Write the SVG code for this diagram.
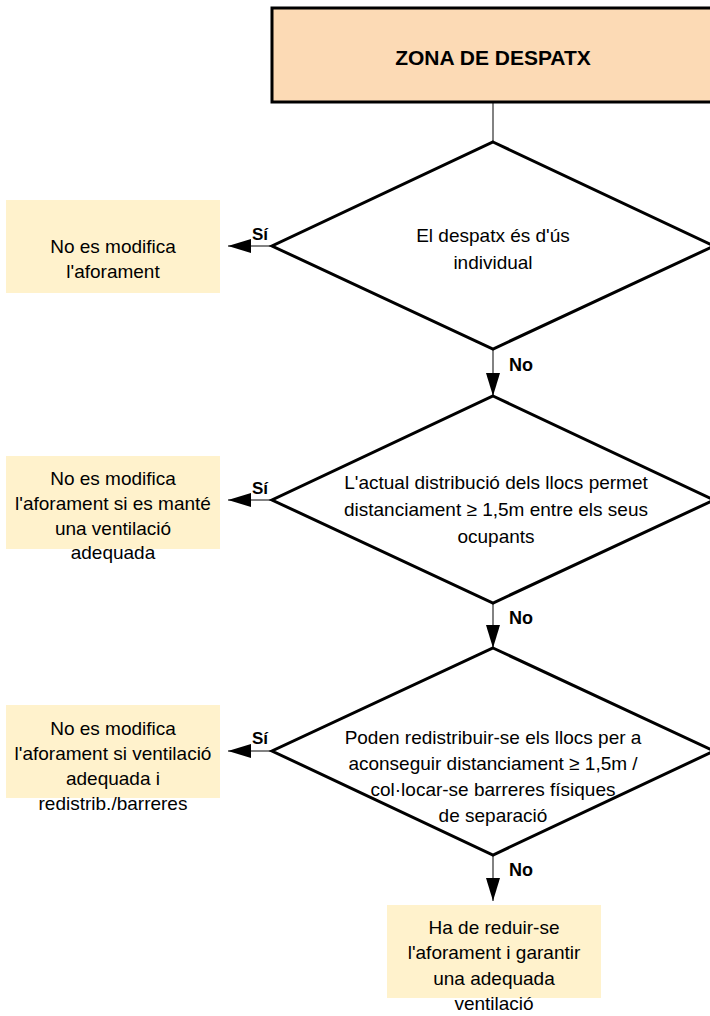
<svg xmlns="http://www.w3.org/2000/svg" width="710" height="1016" viewBox="0 0 710 1016">
<defs>
<marker id="ah" markerUnits="userSpaceOnUse" markerWidth="23" markerHeight="14" refX="23" refY="7" orient="auto">
<path d="M0,0 L23,7 L0,14 z" fill="#000"/>
</marker>
<style>
.t{font-family:"Liberation Sans",Arial,sans-serif;font-size:19px;fill:#000;text-anchor:middle}
.lb{font-family:"Liberation Sans",Arial,sans-serif;font-weight:bold;fill:#000}
.dia{fill:#fff;stroke:#000;stroke-width:3}
.res{fill:#FFF2CC;stroke:none}
.con{stroke:#595959;stroke-width:1.5;fill:none}
</style>
</defs>
<rect width="710" height="1016" fill="#fff"/>
<g id="connectors">
<line class="con" x1="493" y1="102" x2="493" y2="142"/>
<line class="con" x1="493" y1="349" x2="493" y2="396" marker-end="url(#ah)"/>
<line class="con" x1="493" y1="603" x2="493" y2="648" marker-end="url(#ah)"/>
<line class="con" x1="493" y1="855" x2="493" y2="901" marker-end="url(#ah)"/>
<line class="con" x1="272" y1="246" x2="228" y2="246" marker-end="url(#ah)"/>
<line class="con" x1="272" y1="500" x2="228" y2="500" marker-end="url(#ah)"/>
<line class="con" x1="272" y1="751" x2="228" y2="751" marker-end="url(#ah)"/>
<text class="lb" x="509" y="371" font-size="18">No</text>
<text class="lb" x="509" y="624" font-size="18">No</text>
<text class="lb" x="509" y="876" font-size="18">No</text>
<text class="lb" x="252" y="240" font-size="17">Sí</text>
<text class="lb" x="252" y="494" font-size="17">Sí</text>
<text class="lb" x="252" y="744" font-size="17">Sí</text>
</g>
<g id="start">
<rect x="272" y="8" width="445" height="94" fill="#FCDAB5" stroke="#000" stroke-width="3"/>
<text x="493" y="65" font-family="'Liberation Sans',Arial,sans-serif" font-weight="bold" font-size="21" text-anchor="middle">ZONA DE DESPATX</text>
</g>
<g id="d1">
<polygon class="dia" points="493,142 714,246 493,349 272,246"/>
<text class="t" x="493" y="242">El despatx és d'ús</text>
<text class="t" x="493" y="269">individual</text>
</g>
<g id="r1">
<rect class="res" x="6" y="200" width="214" height="93"/>
<text class="t" x="113" y="253">No es modifica</text>
<text class="t" x="113" y="278">l'aforament</text>
</g>
<g id="d2">
<polygon class="dia" points="493,396 714,500 493,603 272,500"/>
<text class="t" x="496" y="489">L'actual distribució dels llocs permet</text>
<text class="t" x="496" y="516">distanciament ≥ 1,5m entre els seus</text>
<text class="t" x="496" y="543">ocupants</text>
</g>
<g id="r2">
<rect class="res" x="6" y="456" width="214" height="93"/>
<text class="t" x="113" y="485">No es modifica</text>
<text class="t" x="113" y="510">l'aforament si es manté</text>
<text class="t" x="113" y="535">una ventilació</text>
<text class="t" x="113" y="559">adequada</text>
</g>
<g id="d3">
<polygon class="dia" points="493,648 714,751 493,855 272,751"/>
<text class="t" x="493" y="744">Poden redistribuir-se els llocs per a</text>
<text class="t" x="493" y="770">aconseguir distanciament ≥ 1,5m /</text>
<text class="t" x="493" y="796">col·locar-se barreres físiques</text>
<text class="t" x="493" y="822">de separació</text>
</g>
<g id="r3">
<rect class="res" x="6" y="705" width="214" height="93"/>
<text class="t" x="113" y="735">No es modifica</text>
<text class="t" x="113" y="760">l'aforament si ventilació</text>
<text class="t" x="113" y="785">adequada i</text>
<text class="t" x="113" y="810">redistrib./barreres</text>
</g>
<g id="r4">
<rect class="res" x="387" y="905" width="214" height="93"/>
<text class="t" x="494" y="934">Ha de reduir-se</text>
<text class="t" x="494" y="959">l'aforament i garantir</text>
<text class="t" x="494" y="985">una adequada</text>
<text class="t" x="494" y="1010">ventilació</text>
</g>
</svg>
